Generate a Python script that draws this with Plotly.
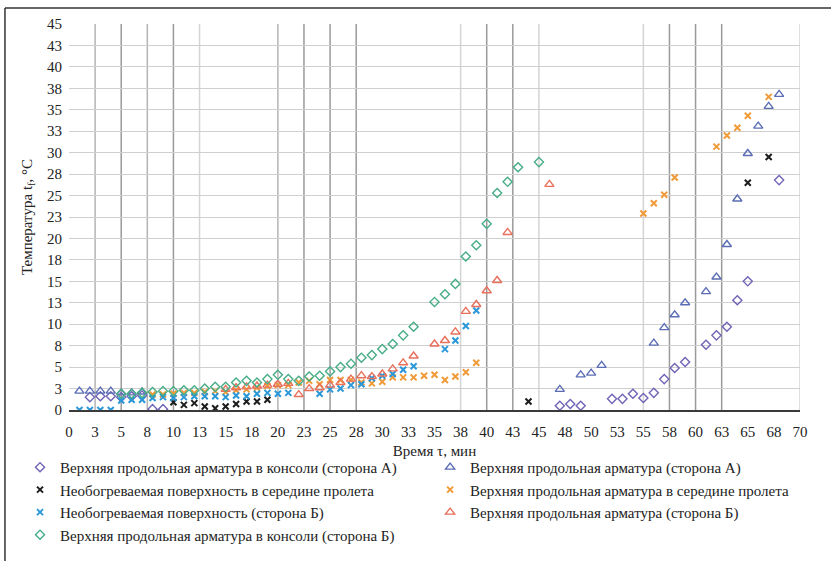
import plotly.graph_objects as go

# Time (min) and temperature (°C) readings for each measurement point
diam_a_t = [2, 3, 4, 5, 6, 7, 8, 9, 47, 48, 49, 52, 53, 54, 55, 56, 57, 58, 59, 61, 62, 63, 64, 65, 68]
diam_a_T = [1.5, 1.6, 1.6, 1.5, 1.6, 1.7, 0.1, 0.1, 0.5, 0.7, 0.5, 1.3, 1.3, 1.9, 1.4, 2.0, 3.6, 4.9, 5.6,
            7.6, 8.7, 9.7, 12.8, 15.0, 26.8]

tri_a_t = [1, 2, 3, 4, 5, 6, 7, 47, 49, 50, 51, 56, 57, 58, 59, 61, 62, 63, 64, 65, 66, 67, 68]
tri_a_T = [2.2, 2.2, 2.2, 2.2, 2.0, 2.0, 2.1, 2.4, 4.1, 4.3, 5.2, 7.8, 9.6, 11.1, 12.5, 13.8, 15.5, 19.3,
           24.6, 29.9, 33.1, 35.4, 36.8]

mid_surf_t = [10, 11, 12, 13, 14, 15, 16, 17, 18, 19, 44, 65, 67]
mid_surf_T = [0.9, 0.6, 0.8, 0.4, 0.2, 0.4, 0.7, 1.0, 1.0, 1.2, 1.0, 26.5, 29.5]

mid_rebar_t = list(range(8, 40)) + [55, 56, 57, 58, 62, 63, 64, 65, 67]
mid_rebar_T = [1.8, 1.8, 1.9, 2.0, 2.0, 2.1, 2.2, 2.1, 2.3, 2.4, 2.6, 2.8, 2.9, 2.9,
               3.2, 3.4, 3.0, 3.5, 3.5, 3.5, 3.2, 3.1, 3.3, 3.8, 3.8, 3.8, 4.0, 4.1, 3.5, 3.9, 4.4, 5.5,
               22.9, 24.1, 25.1, 27.1, 30.7, 32.0, 32.9, 34.3, 36.5]

surf_b_t = [1, 2, 3, 4, 5, 6, 7, 8, 9, 10, 11, 12, 13, 14, 15, 16, 17, 18, 19, 20, 21,
            24, 25, 26, 27, 28, 29, 30, 31, 32, 33, 36, 37, 38, 39]
surf_b_T = [0, 0, 0, 0, 1.1, 1.2, 1.2, 1.4, 1.5, 1.4, 1.5, 1.6, 1.6, 1.6, 1.5, 1.7, 1.6, 1.9, 2.0, 1.9, 2.0,
            1.9, 2.4, 2.5, 2.9, 3.0, 3.7, 4.0, 4.2, 4.7, 5.1, 7.1, 8.1, 9.8, 11.6]

tri_b_t = [15, 16, 17, 18, 19, 20, 21, 22, 23, 24, 25, 26, 27, 28, 29, 30, 31, 32, 33,
           35, 36, 37, 38, 39, 40, 41, 42, 46]
tri_b_T = [2.4, 2.6, 2.7, 2.8, 2.9, 3.0, 3.1, 1.8, 2.5, 2.6, 2.9, 3.2, 3.6, 4.0, 3.9, 4.2, 4.8, 5.5, 6.3,
           7.7, 8.1, 9.1, 11.5, 12.3, 13.9, 15.1, 20.7, 26.3]

diam_b_t = list(range(5, 34)) + list(range(35, 44)) + [45]
diam_b_T = [1.9, 1.9, 2.0, 2.1, 2.2, 2.2, 2.3, 2.3,
            2.5, 2.7, 2.7, 3.2, 3.4, 3.2, 3.6, 4.1, 3.6, 3.4, 3.9, 4.0, 4.5, 5.0, 5.4, 6.1, 6.4, 7.1, 7.7,
            8.7, 9.7,
            12.6, 13.5, 14.7, 17.9, 19.2, 21.7, 25.3, 26.6, 28.3,
            28.9]

# Axis ticks every 2.5 units, labelled with rounded values
y_tickvals = [i * 2.5 for i in range(19)]
y_ticktext = ["0", "3", "5", "8", "10", "13", "15", "18", "20", "23", "25", "28", "30", "33", "35",
              "38", "40", "43", "45"]
x_tickvals = [i * 2.5 for i in range(29)]
x_ticktext = ["0", "3", "5", "8", "10", "13", "15", "18", "20", "23", "25", "28", "30", "33", "35",
              "38", "40", "43", "45", "48", "50", "53", "55", "58", "60", "63", "65", "68", "70"]

# Vertical reference lines (time marks) and their shade
vline_dark = [5, 10, 22.5, 25, 27.5, 40, 42.5, 57.5, 60, 62.5]
vline_mid = [2.5, 7.5, 20]
vline_light = [12.5, 37.5, 45, 55, 70]

# name, x, y, symbol, colour, size, legend column
series = [
    ("Верхняя продольная арматура в консоли (сторона А)", diam_a_t, diam_a_T, "diamond-open", "#6f64b6", 7, "legend"),
    ("Верхняя продольная арматура (сторона А)", tri_a_t, tri_a_T, "triangle-up-open", "#5b6db5", 8, "legend2"),
    ("Необогреваемая поверхность в середине пролета", mid_surf_t, mid_surf_T, "x-thin-open", "#1c1c1c", 6, "legend"),
    ("Верхняя продольная арматура в середине пролета", mid_rebar_t, mid_rebar_T, "x-thin-open", "#f19a38", 6, "legend2"),
    ("Необогреваемая поверхность (сторона Б)", surf_b_t, surf_b_T, "x-thin-open", "#2a98d8", 6, "legend"),
    ("Верхняя продольная арматура (сторона Б)", tri_b_t, tri_b_T, "triangle-up-open", "#e8705c", 8, "legend2"),
    ("Верхняя продольная арматура в консоли (сторона Б)", diam_b_t, diam_b_T, "diamond-open", "#47ad86", 7, "legend"),
]

fig = go.Figure()
for name, xs, ys, sym, col, size, leg in series:
    fig.add_trace(go.Scatter(
        x=xs, y=ys, mode="markers", name=name, legend=leg,
        marker=dict(symbol=sym, size=size, color=col,
                    line=dict(color=col, width=2 if sym.startswith("x") else 1.4)),
    ))

shapes = []
for group, color in ((vline_light, "#d4d4d4"), (vline_mid, "#b4b4b4"), (vline_dark, "#9a9a9a")):
    for xv in group:
        shapes.append(dict(type="line", xref="x", yref="y", x0=xv, x1=xv, y0=0, y1=45,
                           line=dict(color=color, width=1.5), layer="below"))

# Frame lines along the top and left edge of the page
shapes.append(dict(type="line", xref="paper", yref="paper", x0=-0.0876, x1=1.05, y0=1.0415, y1=1.0415,
                   line=dict(color="#333333", width=1.5)))
shapes.append(dict(type="line", xref="paper", yref="paper", x0=-0.0876, x1=-0.0876, y0=1.0415, y1=-0.40,
                   line=dict(color="#333333", width=1.5)))

font_family = "Liberation Serif"
legend_style = dict(orientation="v", yanchor="top", xanchor="left", font=dict(size=15),
                    tracegroupgap=0, itemsizing="trace", bgcolor="rgba(0,0,0,0)")
fig.update_layout(
    width=831, height=561,
    margin=dict(l=69, r=31, t=24, b=151, autoexpand=False),
    paper_bgcolor="white", plot_bgcolor="white",
    font=dict(family=font_family, size=15, color="#222222"),
    shapes=shapes,
    xaxis=dict(range=[0, 70], tickvals=x_tickvals, ticktext=x_ticktext, showgrid=False,
               showline=True, linecolor="#3a3a3a", linewidth=2, zeroline=False, ticks="",
               ticklabelstandoff=7, automargin=False,
               title=dict(text="Время τ, мин", font=dict(size=15), standoff=6)),
    yaxis=dict(range=[0, 45], tickvals=y_tickvals, ticktext=y_ticktext, showgrid=True,
               gridcolor="#cfcfcf", gridwidth=1, zeroline=False, showline=False, ticks="",
               ticklabelstandoff=6, automargin=False,
               title=dict(text="Температура t<sub>f</sub>, °C", font=dict(size=15), standoff=10)),
    legend=dict(x=-0.067, y=-0.106, **legend_style),
    legend2=dict(x=0.494, y=-0.106, **legend_style),
)

fig.write_html("out.html")
